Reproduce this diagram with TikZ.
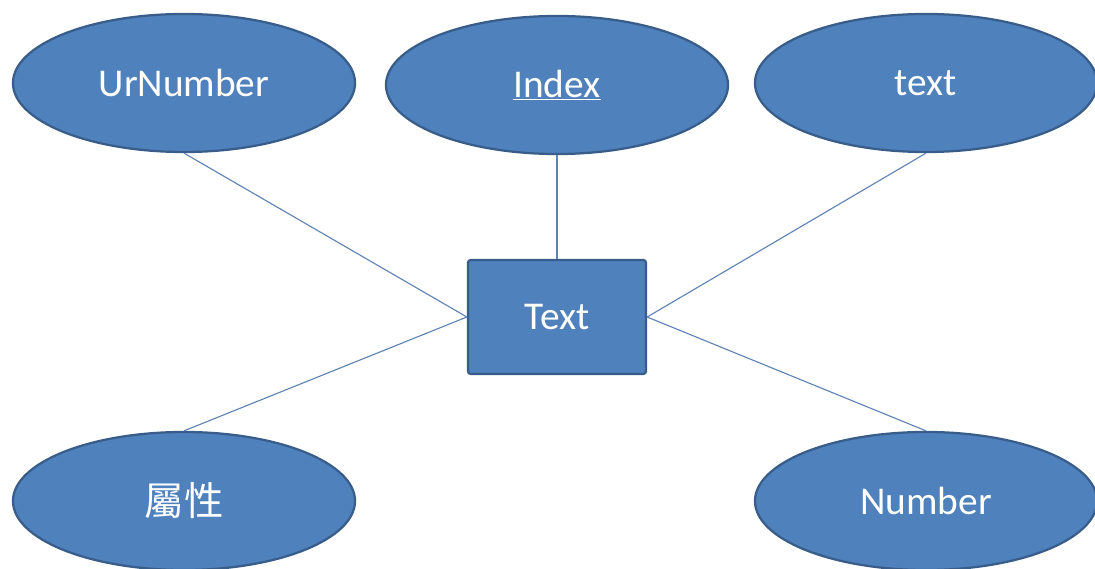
\documentclass[tikz,border=0pt]{standalone}
\usepackage{fontspec}
\setmainfont{Carlito}
\newfontfamily\cjk{Noto Sans CJK TC}
\usetikzlibrary{shapes.geometric,positioning}

\definecolor{attrfill}{RGB}{79,129,189}
\definecolor{attrline}{RGB}{56,93,138}
\definecolor{linkline}{RGB}{95,130,180}

\begin{document}
\begin{tikzpicture}[
    x=0.025cm, y=-0.025cm,
    attr/.style={ellipse, draw=attrline, line width=1.6pt, fill=attrfill,
        minimum width=8.55cm, minimum height=3.45cm, text=white,
        font=\fontsize{28}{32}\selectfont},
    entity/.style={rectangle, rounded corners=2pt, draw=attrline, line width=1.6pt,
        fill=attrfill, minimum width=4.45cm, minimum height=2.85cm, text=white,
        font=\fontsize{28}{32}\selectfont},
    link/.style={linkline, line width=0.8pt}
]
    \useasboundingbox (0,0) rectangle (1095,569);

    % Entity
    \node[entity] (box) at (557, 317) {Text};

    % Attributes
    \node[attr] (urnum) at (184, 83) {UrNumber};
    \node[attr] (idx) at (557, 85) {\underline{Index}};
    \node[attr] (txt) at (926, 83) {text};
    \node[attr] (prop) at (184, 501) {\cjk 屬性};
    \node[attr] (num) at (926, 501) {Number};

    % Links
    \draw[link] (urnum.south) -- (box.west);
    \draw[link] (idx.south) -- (box.north);
    \draw[link] (txt.south) -- (box.east);
    \draw[link] (prop.north) -- (box.west);
    \draw[link] (num.north) -- (box.east);
\end{tikzpicture}
\end{document}
